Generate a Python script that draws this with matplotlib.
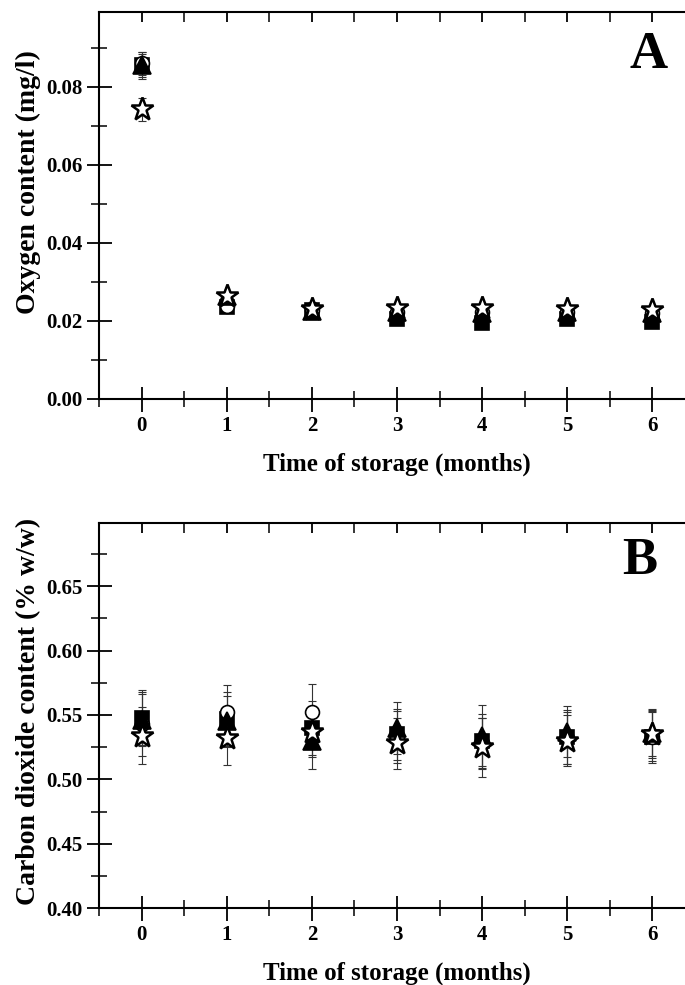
import matplotlib
matplotlib.use("Agg")
import matplotlib.pyplot as plt
from matplotlib.ticker import MultipleLocator, FormatStrFormatter

plt.rcParams['font.family'] = ['Liberation Serif', 'DejaVu Serif']
plt.rcParams['font.weight'] = 'bold'

months = [0, 1, 2, 3, 4, 5, 6]

# Panel A: oxygen content (mg/l)
ox_square = [0.0855, 0.0235, 0.0228, 0.0204, 0.0194, 0.0205, 0.0197]
ox_circle = [0.0860, 0.0238, 0.0228, 0.0222, 0.0222, 0.0222, 0.0220]
ox_triangle = [0.0855, 0.0263, 0.0226, 0.0222, 0.0221, 0.0222, 0.0220]
ox_star = [0.0742, 0.0264, 0.0230, 0.0232, 0.0232, 0.0230, 0.0227]
ox_square_err = [0.0030, 0.0008, 0.0010, 0.0006, 0.0006, 0.0006, 0.0006]
ox_circle_err = [0.0030, 0.0008, 0.0010, 0.0006, 0.0006, 0.0006, 0.0006]
ox_triangle_err = [0.0035, 0.0008, 0.0022, 0.0006, 0.0006, 0.0006, 0.0006]
ox_star_err = [0.0030, 0.0008, 0.0010, 0.0006, 0.0006, 0.0006, 0.0006]

# Panel B: carbon dioxide content (% w/w)
co_square = [0.548, 0.547, 0.540, 0.535, 0.530, 0.533, 0.533]
co_circle = [0.543, 0.552, 0.552, 0.533, 0.528, 0.532, 0.533]
co_triangle = [0.546, 0.545, 0.530, 0.540, 0.534, 0.537, 0.536]
co_star = [0.534, 0.532, 0.537, 0.528, 0.525, 0.530, 0.5355]
co_square_err = [0.021, 0.021, 0.021, 0.020, 0.021, 0.021, 0.019]
co_circle_err = [0.025, 0.021, 0.022, 0.020, 0.020, 0.020, 0.020]
co_triangle_err = [0.020, 0.020, 0.022, 0.020, 0.024, 0.020, 0.018]
co_star_err = [0.022, 0.021, 0.020, 0.020, 0.023, 0.020, 0.019]

xticks = [0, 1, 2, 3, 4, 5, 6]
xlabel = "Time of storage (months)"

fig = plt.figure(figsize=(6.85, 9.85), dpi=100)
axA = fig.add_axes([0.1445, 0.595, 0.870, 0.393])
axB = fig.add_axes([0.1445, 0.078, 0.870, 0.391])

styles = [
    dict(marker='s', ms=10, mfc='black', mec='black'),
    dict(marker='o', ms=10, mfc='white', mec='black'),
    dict(marker='^', ms=13, mfc='black', mec='black'),
    dict(marker='*', ms=17, mfc='white', mec='black', mew=1.8),
]

def draw(ax, series, errs):
    for vals, err, st in zip(series, errs, styles):
        kw = dict(st)
        kw.setdefault('mew', 1.2)
        ax.errorbar(months, vals, yerr=err, fmt='none', ecolor='#333333',
                    elinewidth=0.8, capsize=3, capthick=0.8, zorder=2)
        ax.plot(months, vals, linestyle='none', zorder=3, **kw)

def style(ax, ylim, major, minor, fmt, ylabel, ylab_y, letter, lx, ly):
    ax.set_xlim(-0.5, 6.5)
    ax.set_ylim(*ylim)
    ax.set_xticks(xticks)
    ax.xaxis.set_minor_locator(MultipleLocator(0.5))
    ax.yaxis.set_major_locator(MultipleLocator(major))
    ax.yaxis.set_minor_locator(MultipleLocator(minor))
    ax.yaxis.set_major_formatter(FormatStrFormatter(fmt))
    ax.tick_params(axis='both', which='major', direction='inout', length=18,
                   width=1.3, labelsize=15, pad=3, top=True, right=False)
    ax.tick_params(axis='both', which='minor', direction='inout', length=12,
                   width=1.1, top=True, right=False)
    for s in ax.spines.values():
        s.set_linewidth(1.5)
    for lab in ax.get_xticklabels() + ax.get_yticklabels():
        lab.set_fontweight('bold')
    ax.set_xlabel(xlabel, fontsize=18, fontweight='bold', labelpad=12)
    ax.set_ylabel(ylabel, fontsize=20, fontweight='bold')
    ax.yaxis.set_label_coords(-0.097, ylab_y)
    ax.text(lx, ly, letter, transform=ax.transData, fontsize=38,
            fontweight='bold', ha='center', va='center')

draw(axA, [ox_square, ox_circle, ox_triangle, ox_star],
     [ox_square_err, ox_circle_err, ox_triangle_err, ox_star_err])
draw(axB, [co_square, co_circle, co_triangle, co_star],
     [co_square_err, co_circle_err, co_triangle_err, co_star_err])

style(axA, (0, 0.0992), 0.02, 0.01, '%.2f', 'Oxygen content (mg/l)', 0.56,
      'A', 5.95, 0.0882)
style(axB, (0.40, 0.699), 0.05, 0.025, '%.2f', 'Carbon dioxide content (% w/w)', 0.51,
      'B', 5.85, 0.6695)

# top ticks inward only
for ax in (axA, axB):
    for t in ax.xaxis.get_major_ticks() + ax.xaxis.get_minor_ticks():
        t.tick2line.set_marker(3)  # TICKDOWN
        t.tick2line.set_markersize(7)

fig.savefig('out.png', dpi=100)
